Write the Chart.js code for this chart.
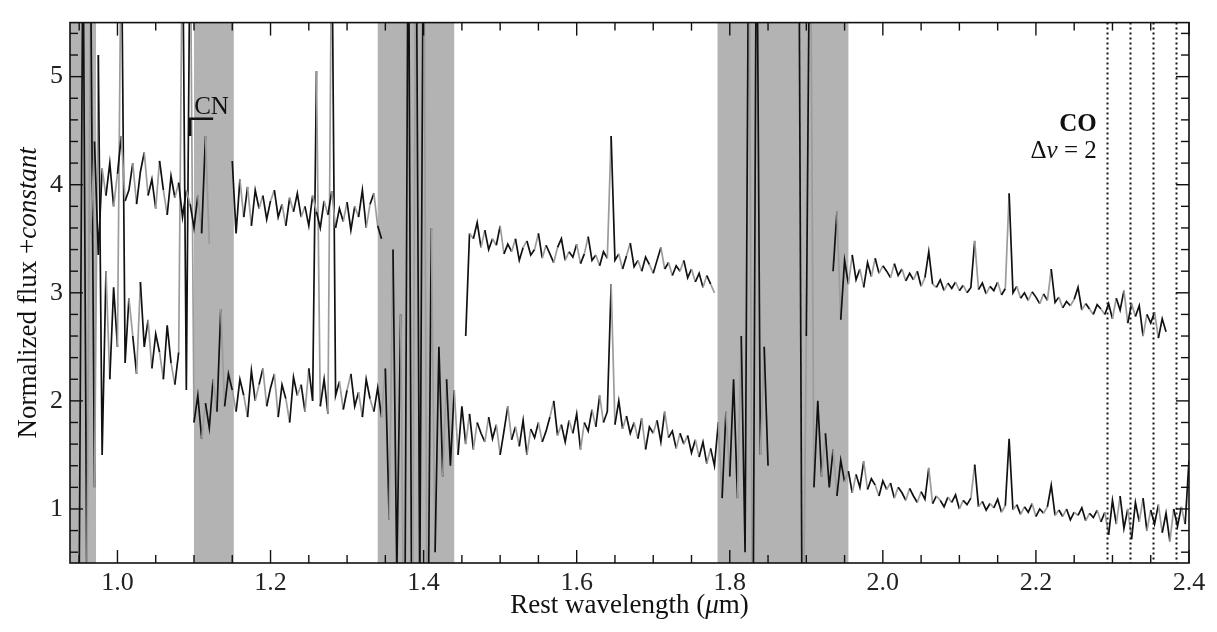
<!DOCTYPE html>
<html>
<head>
<meta charset="utf-8">
<script src="https://cdn.jsdelivr.net/npm/chart.js@4.4.1/dist/chart.umd.min.js"></script>
<style>
  html, body { margin: 0; padding: 0; background: #fff; }
  canvas { display: block; }
</style>
</head>
<body>
<canvas id="spectrum" width="1217" height="632"></canvas>
<script>
// sampling grid of the spectra (micron)
const wavelengthStart = 0.94;
const wavelengthStep = 0.005;

// upper spectrum (offset), null = masked
const upperFlux = [
  null, null, null, null, null, 3.55, 4.4, 3.35, 4.15, 3.9,      // 0.940
  4.2, 3.8, 4.1, 4.45, 3.85, 3.95, 4.2, 3.82, 4.12, 4.3,         // 0.990
  3.9, 4.05, 3.78, 4.22, 3.95, 3.72, 4.08, 3.88, 4.02, 3.7,      // 1.040
  3.95, 3.82, 3.6, 3.9, 3.55, 4.45, 3.45, null, null, null,      // 1.090
  null, null, 4.22, 3.55, 4.05, 3.7, 3.98, 3.62, 3.95, 3.78,     // 1.140
  3.9, 3.68, 3.85, 3.95, 3.7, 3.82, 3.62, 3.88, 3.75, 3.92,      // 1.190
  3.7, 3.8, 3.62, 3.9, 3.75, 3.6, 3.85, 3.72, 3.94, 3.6,         // 1.240
  3.78, 3.66, 3.84, 3.58, 3.8, 3.7, 3.95, 3.6, 3.82, 3.92,       // 1.290
  3.62, 3.5, null, null, null, null, null, null, null, null,     // 1.340
  null, null, null, null, null, null, null, null, null, null,    // 1.390
  null, null, null, 2.6, 3.55, 3.5, 3.65, 3.42, 3.58, 3.4,       // 1.440
  3.5, 3.44, 3.62, 3.36, 3.45, 3.38, 3.5, 3.3, 3.42, 3.48,       // 1.490
  3.35, 3.4, 3.55, 3.32, 3.44, 3.36, 3.28, 3.42, 3.5, 3.3,       // 1.540
  3.38, 3.33, 3.45, 3.27, 3.36, 3.52, 3.3, 3.35, 3.25, 3.38,     // 1.590
  3.32, 4.45, 3.3, 3.36, 3.22, 3.34, 3.46, 3.24, 3.3, 3.2,       // 1.640
  3.33, 3.26, 3.18, 3.3, 3.42, 3.22, 3.28, 3.16, 3.25, 3.2,      // 1.690
  3.3, 3.14, 3.22, 3.1, 3.18, 3.05, 3.16, 3.08, 3.0, null,       // 1.740
  null, null, null, null, null, null, null, null, null, null,    // 1.790
  null, null, null, null, null, null, null, null, null, null,    // 1.840
  null, null, null, null, null, null, null, null, null, 3.2,     // 1.890
  3.75, 2.75, 3.3, 3.08, 3.35, 3.12, 3.22, 3.05, 3.28, 3.15,     // 1.940
  3.32, 3.18, 3.25, 3.2, 3.14, 3.27, 3.16, 3.22, 3.11, 3.18,     // 1.990
  3.12, 3.2, 3.06, 3.14, 3.38, 3.08, 3.05, 3.12, 3.02, 3.09,     // 2.040
  3.04, 3.1, 3.02, 3.07, 3.0, 3.05, 3.48, 3.03, 3.09, 2.99,      // 2.090
  3.06, 3.02, 3.1, 2.98, 3.04, 3.92, 3.0, 3.06, 2.95, 3.0,       // 2.140
  2.93, 3.01, 2.96, 2.9, 2.99, 2.93, 3.22, 2.91, 2.96, 2.86,     // 2.190
  2.92, 2.88, 2.94, 3.05, 2.84, 2.9, 2.85, 2.8, 2.89, 2.85,      // 2.240
  2.8, 2.9, 2.76, 2.95, 2.84, 3.02, 2.72, 2.9, 2.78, 2.88,       // 2.290
  2.6, 2.8, 2.72, 2.82, 2.58, 2.76, 2.64, null, null, null,      // 2.340
  null, null, null                                               // 2.390
];

// lower spectrum
const lowerFlux = [
  null, null, 0.3, 6.5, 0.2, 6.0, 1.2, 5.2, 1.5, 3.2,            // 0.940
  2.2, 3.05, 2.5, 6.5, 2.35, 2.95, 2.6, 2.25, 3.1, 2.5,          // 0.990
  2.75, 2.3, 2.62, 2.45, 2.2, 2.7, 2.35, 2.15, 2.45, 6.5,        // 1.040
  2.1, 6.5, 1.8, 2.05, 1.65, 1.98, 1.75, 2.2, 1.9, 2.85,         // 1.090
  1.95, 2.25, 2.1, 1.9, 2.2, 2.05, 1.85, 2.28, 2.0, 2.15,        // 1.140
  2.3, 1.95, 2.12, 2.25, 1.85, 2.15, 2.02, 1.8, 2.22, 2.05,      // 1.190
  2.15, 1.9, 2.3, 2.0, 5.05, 1.95, 2.2, 1.88, 6.5, 2.05,         // 1.240
  2.18, 1.92, 2.1, 2.25, 1.95, 2.08, 1.85, 2.2, 2.02, 1.9,       // 1.290
  2.12, 1.85, 2.3, 0.9, 3.4, 0.4, 2.8, -1, 7, -1,                // 1.340
  7, 0.2, 7, -1, 3.6, 0.6, 2.5, 1.3, 2.2, 1.4,                   // 1.390
  2.1, 1.5, 1.95, 1.6, 1.88, 1.55, 1.8, 1.7, 1.62, 1.85,         // 1.440
  1.65, 1.78, 1.5, 1.72, 1.95, 1.64, 1.76, 1.58, 1.82, 1.5,      // 1.490
  1.74, 1.66, 1.8, 1.62, 1.72, 1.85, 2.0, 1.68, 1.78, 1.62,      // 1.540
  1.82, 1.7, 1.88, 1.55, 1.8, 1.72, 1.92, 1.76, 2.05, 1.8,       // 1.590
  1.9, 3.08, 1.78, 2.0, 1.74, 1.86, 1.7, 1.8, 1.65, 1.84,        // 1.640
  1.55, 1.76, 1.7, 1.82, 1.62, 1.9, 1.66, 1.72, 1.56, 1.7,       // 1.690
  1.6, 1.68, 1.52, 1.64, 1.48, 1.62, 1.42, 1.56, 1.4, 1.8,       // 1.740
  1.1, 1.9, 1.3, 2.2, 1.1, 2.6, 0.6, 7, -1, 7,                   // 1.790
  1.5, 2.5, 1.4, null, null, null, null, null, null, null,       // 1.840
  7, -1, 2.6, 7, 1.2, 2.0, 1.3, 1.7, 1.2, 1.55,                  // 1.890
  1.12, 1.45, 1.25, 1.35, 1.15, 1.32, 1.2, 1.44, 1.18, 1.28,     // 1.940
  1.22, 1.12, 1.26, 1.18, 1.24, 1.1, 1.2, 1.15, 1.08, 1.19,      // 1.990
  1.12, 1.06, 1.16, 1.09, 1.38, 1.05, 1.12, 1.08, 1.02, 1.11,    // 2.040
  1.06, 1.13, 1.0, 1.08, 1.04, 1.1, 1.41, 1.02, 1.07, 0.99,      // 2.090
  1.05, 1.01, 1.09, 0.97, 1.03, 1.65, 0.99, 1.04, 0.95, 1.02,    // 2.140
  0.97, 1.05, 0.93, 1.0, 0.96, 1.02, 1.22, 0.94, 0.99, 0.93,     // 2.190
  1.0, 0.9, 0.97, 0.94, 1.01, 0.89, 0.96, 0.92, 0.99, 0.88,      // 2.240
  0.97, 0.76, 1.08, 0.86, 1.12, 0.82, 1.0, 0.72, 1.06, 0.88,     // 2.290
  1.1, 0.8, 0.99, 0.86, 1.04, 0.78, 0.96, 0.7, 1.0, 0.84,        // 2.340
  1.02, 0.86, 1.45                                               // 2.390
];

const xTicks = [1.0, 1.2, 1.4, 1.6, 1.8, 2.0, 2.2, 2.4];
const yTicks = [1, 2, 3, 4, 5];

// shaded regions (telluric), micron
const telluricBands = [[0.938, 0.972], [1.100, 1.152], [1.340, 1.440], [1.784, 1.955]];
// CO Δv=2 bandheads
const coBandheads = [2.2935, 2.3227, 2.3525, 2.3830];

const wavelengths = upperFlux.map((_, i) => +(wavelengthStart + i * wavelengthStep).toFixed(3));

const serif = '"Liberation Serif", "DejaVu Serif", serif';
const ink = '#111';

// mix of black and grey pieces like the original plot
function isGray(i, k) {
  return ((i * 7 + k) % 11) < 4;
}

function makeSet(flux, k) {
  return {
    data: wavelengths.map((x, i) => ({ x: x, y: flux[i] })),
    borderColor: ink,
    borderWidth: 1.7,
    pointRadius: 0,
    tension: 0,
    spanGaps: false,
    clip: 0,
    segment: {
      borderColor: c => isGray(c.p0DataIndex, k) ? '#9c9c9c' : ink
    }
  };
}

const decor = {
  id: 'decor',
  beforeDatasetsDraw(chart) {
    const { ctx, chartArea: a, scales: { x } } = chart;
    ctx.save();
    ctx.fillStyle = '#b3b3b3';
    telluricBands.forEach(([lo, hi]) => {
      const x0 = Math.max(a.left, x.getPixelForValue(lo));
      const x1 = Math.min(a.right, x.getPixelForValue(hi));
      ctx.fillRect(x0, a.top, x1 - x0, a.bottom - a.top);
    });
    ctx.restore();
  },
  afterDatasetsDraw(chart) {
    const { ctx, chartArea: a, scales: { x, y } } = chart;
    ctx.save();

    // CO bandheads
    ctx.strokeStyle = ink;
    ctx.lineWidth = 2;
    ctx.setLineDash([2, 3]);
    coBandheads.forEach(w => {
      const px = Math.round(x.getPixelForValue(w)) + 0.5;
      ctx.beginPath();
      ctx.moveTo(px, a.top);
      ctx.lineTo(px, a.bottom);
      ctx.stroke();
    });
    ctx.setLineDash([]);

    // CN bracket
    ctx.lineWidth = 2.5;
    ctx.beginPath();
    ctx.moveTo(x.getPixelForValue(1.095), y.getPixelForValue(4.45));
    ctx.lineTo(x.getPixelForValue(1.095), y.getPixelForValue(4.61));
    ctx.lineTo(x.getPixelForValue(1.125), y.getPixelForValue(4.61));
    ctx.stroke();

    ctx.fillStyle = ink;
    ctx.textBaseline = 'alphabetic';
    ctx.font = '25px ' + serif;
    ctx.textAlign = 'left';
    ctx.fillText('CN', x.getPixelForValue(1.1002), y.getPixelForValue(4.65));

    // CO label
    const rx = x.getPixelForValue(2.2795);
    ctx.textAlign = 'right';
    ctx.font = 'bold 25px ' + serif;
    ctx.fillText('CO', rx, y.getPixelForValue(4.5));
    const parts = [['Δ', ''], ['v', 'italic '], [' = 2', '']];
    let total = 0;
    parts.forEach(p => { ctx.font = p[1] + '25px ' + serif; total += ctx.measureText(p[0]).width; });
    let cx = rx - total;
    ctx.textAlign = 'left';
    parts.forEach(p => {
      ctx.font = p[1] + '25px ' + serif;
      ctx.fillText(p[0], cx, y.getPixelForValue(4.245));
      cx += ctx.measureText(p[0]).width;
    });

    // inward ticks on all four sides
    ctx.strokeStyle = ink;
    ctx.lineWidth = 1.4;
    const tick = (x0, y0, x1, y1) => { ctx.beginPath(); ctx.moveTo(x0, y0); ctx.lineTo(x1, y1); ctx.stroke(); };
    for (let k = 19; k <= 48; k++) {
      const px = x.getPixelForValue(k * 0.05);
      const len = (k % 4 === 0) ? 13 : 8;
      tick(px, a.bottom, px, a.bottom - len);
      tick(px, a.top, px, a.top + len);
    }
    for (let k = 3; k <= 27; k++) {
      const py = y.getPixelForValue(k * 0.2);
      const len = (k % 5 === 0) ? 13 : 8;
      tick(a.left, py, a.left + len, py);
      tick(a.right, py, a.right - len, py);
    }

    // frame
    ctx.lineWidth = 1.6;
    ctx.strokeRect(a.left, a.top, a.right - a.left, a.bottom - a.top);
    ctx.restore();
  },
  afterDraw(chart) {
    const { ctx, chartArea: a } = chart;
    ctx.save();
    ctx.fillStyle = ink;
    ctx.textBaseline = 'alphabetic';

    // x title
    const xt = [['Rest wavelength (', ''], ['μ', 'italic '], ['m)', '']];
    let w = 0;
    xt.forEach(p => { ctx.font = p[1] + '27px ' + serif; w += ctx.measureText(p[0]).width; });
    let sx = (a.left + a.right) / 2 - w / 2;
    ctx.textAlign = 'left';
    xt.forEach(p => {
      ctx.font = p[1] + '27px ' + serif;
      ctx.fillText(p[0], sx, 613);
      sx += ctx.measureText(p[0]).width;
    });

    // y title
    ctx.translate(36, (a.top + a.bottom) / 2);
    ctx.rotate(-Math.PI / 2);
    const yt = [['Normalized flux +', ''], ['constant', 'italic ']];
    w = 0;
    yt.forEach(p => { ctx.font = p[1] + '27px ' + serif; w += ctx.measureText(p[0]).width; });
    sx = -w / 2;
    yt.forEach(p => {
      ctx.font = p[1] + '27px ' + serif;
      ctx.fillText(p[0], sx, 0);
      sx += ctx.measureText(p[0]).width;
    });
    ctx.restore();
  }
};

const tickFont = { family: serif, size: 26 };

const chart = new Chart(document.getElementById('spectrum'), {
  type: 'line',
  data: { datasets: [makeSet(upperFlux, 0), makeSet(lowerFlux, 5)] },
  options: {
    responsive: false,
    animation: false,
    devicePixelRatio: 1,
    layout: { padding: { left: 0, right: 28, top: 5, bottom: 0 } },
    plugins: { legend: { display: false }, tooltip: { enabled: false } },
    scales: {
      x: {
        type: 'linear',
        min: 0.938,
        max: 2.4,
        grid: { display: false, drawTicks: false },
        border: { display: false },
        afterBuildTicks: s => { s.ticks = xTicks.map(v => ({ value: v })); },
        afterFit: s => { s.height = 69; },
        ticks: { padding: 5, color: '#222', font: tickFont, maxRotation: 0, autoSkip: false,
                 callback: v => v.toFixed(1) }
      },
      y: {
        type: 'linear',
        min: 0.5,
        max: 5.5,
        grid: { display: false, drawTicks: false },
        border: { display: false },
        afterBuildTicks: s => { s.ticks = yTicks.map(v => ({ value: v })); },
        afterFit: s => { s.width = 70; },
        ticks: { padding: 7, color: '#222', font: tickFont, callback: v => String(v) }
      }
    }
  },
  plugins: [decor]
});
</script>
</body>
</html>
